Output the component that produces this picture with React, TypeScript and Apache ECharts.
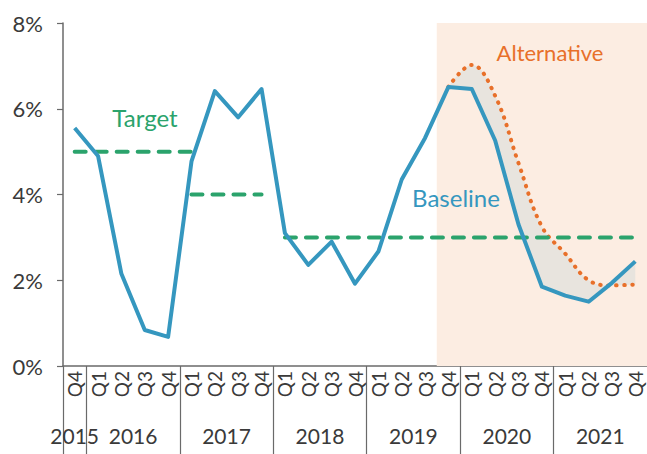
import React, { useEffect, useRef } from "react";
import * as echarts from "echarts";

const categories = [
  "2015 Q4",
  "2016 Q1", "2016 Q2", "2016 Q3", "2016 Q4",
  "2017 Q1", "2017 Q2", "2017 Q3", "2017 Q4",
  "2018 Q1", "2018 Q2", "2018 Q3", "2018 Q4",
  "2019 Q1", "2019 Q2", "2019 Q3", "2019 Q4",
  "2020 Q1", "2020 Q2", "2020 Q3", "2020 Q4",
  "2021 Q1", "2021 Q2", "2021 Q3", "2021 Q4",
];

const baseline = [
  5.55, 4.9, 2.15, 0.84, 0.68, 4.77, 6.41, 5.8, 6.46, 3.1, 2.36, 2.9, 1.92,
  2.67, 4.35, 5.32, 6.51, 6.46, 5.26, 3.3, 1.85, 1.64, 1.5, 1.94, 2.44,
];

const alternative: (number | null)[] = [
  null, null, null, null, null, null, null, null, null, null, null, null, null,
  null, null, null, 6.51, 7.02, 6.3, 4.73, 3.25, 2.62, 2.0, 1.88, 1.9,
];

const targetLevels = [5, 4, 3];
const targetFrom = ["2015 Q4", "2017 Q1", "2018 Q1"];
const targetTo = ["2017 Q1", "2017 Q4", "2021 Q4"];

const years = ["2015", "2016", "2017", "2018", "2019", "2020", "2021"];
const yearFirstQuarter = ["2015 Q4", "2016 Q1", "2017 Q1", "2018 Q1", "2019 Q1", "2020 Q1", "2021 Q1"];

const yTicks = [0, 2, 4, 6, 8];
const shadeFrom = "2019 Q4";

const BLUE = "#3597BF";
const GREEN = "#2BA36C";
const ORANGE = "#E8702A";
const AXIS = "#6a6a6a";
const TEXT = "#3a3a3a";
const FONT = "Lato, 'Open Sans', sans-serif";

export default function App() {
  const ref = useRef<HTMLDivElement>(null);

  useEffect(() => {
    if (!ref.current) return;
    const chart = echarts.init(ref.current, undefined, { renderer: "svg" });

    const n = categories.length;
    const idx = (c: string) => categories.indexOf(c);

    const starts = yearFirstQuarter.map(idx);
    const ends = starts.map((s, i) => (i + 1 < starts.length ? starts[i + 1] : n));
    const yearCentres = starts.map((s, i) => (s + ends[i]) / 2);
    const boundaries = starts.slice();

    const baseStack = baseline.map((v, i) => (alternative[i] == null ? "-" : v));
    const band = baseline.map((v, i) =>
      alternative[i] == null ? "-" : +((alternative[i] as number) - v).toFixed(3)
    );

    const targetSeries = targetLevels.map((lvl, k) => {
      const a = idx(targetFrom[k]);
      const b = idx(targetTo[k]);
      return {
        type: "line",
        data: categories.map((_, i) => (i >= a && i <= b ? lvl : "-")),
        symbol: "none",
        z: 4,
        silent: true,
        lineStyle: { color: GREEN, width: 4, type: [11, 10], cap: "round" },
      };
    });

    chart.setOption({
      animation: false,
      grid: { left: 63, right: 0, top: 23, bottom: 88, outerBoundsMode: "none", containLabel: false },
      xAxis: [
        {
          type: "category",
          data: categories,
          boundaryGap: true,
          axisLine: { show: true, lineStyle: { color: AXIS, width: 1.5 } },
          axisTick: { show: false },
          axisLabel: {
            interval: 0,
            rotate: 90,
            margin: 5,
            fontSize: 19,
            fontFamily: FONT,
            color: TEXT,
            formatter: (v: string) => v.split(" ")[1],
          },
          splitLine: { show: false },
        },
        {
          type: "value",
          position: "bottom",
          min: 0,
          max: n,
          axisLine: { show: false },
          splitLine: { show: false },
          axisTick: {
            show: true,
            inside: false,
            length: 88,
            customValues: boundaries,
            lineStyle: { color: AXIS, width: 1.2 },
          },
          axisLabel: {
            show: true,
            margin: 59,
            fontSize: 21,
            fontFamily: FONT,
            color: TEXT,
            customValues: yearCentres,
            formatter: (v: number) => {
              const k = yearCentres.findIndex((c) => Math.abs(c - v) < 1e-6);
              return k >= 0 ? years[k] : "";
            },
          },
        },
      ],
      yAxis: {
        type: "value",
        min: 0,
        max: 8,
        interval: 2,
        axisLine: { show: true, lineStyle: { color: AXIS, width: 1.5 } },
        axisTick: { show: true, length: 6, lineStyle: { color: AXIS, width: 1.2 } },
        axisLabel: {
          margin: 20,
          fontSize: 22,
          fontFamily: FONT,
          color: TEXT,
          formatter: (v: number) => (yTicks.includes(v) ? `${v}%` : ""),
        },
        splitLine: { show: false },
      },
      series: [
        {
          type: "line",
          xAxisIndex: 1,
          data: [
            [idx(shadeFrom), 0],
            [n, 0],
          ],
          symbol: "none",
          lineStyle: { opacity: 0, width: 0 },
          silent: true,
          z: 0,
          markArea: {
            silent: true,
            itemStyle: { color: "#FCEDE2" },
            data: [[{ xAxis: idx(shadeFrom) }, { xAxis: n }]],
          },
        },
        {
          type: "line",
          data: baseStack,
          stack: "alt",
          stackStrategy: "all",
          symbol: "none",
          smooth: false,
          lineStyle: { opacity: 0, width: 0 },
          silent: true,
          z: 1,
        },
        {
          type: "line",
          data: band,
          stack: "alt",
          stackStrategy: "all",
          symbol: "none",
          smooth: 0.4,
          silent: true,
          z: 2,
          areaStyle: { color: "#E8E4DE", opacity: 1 },
          lineStyle: { color: ORANGE, width: 4, type: [0.5, 7.5], cap: "round" },
        },
        ...targetSeries,
        {
          type: "line",
          data: baseline,
          symbol: "none",
          z: 5,
          silent: true,
          lineStyle: { color: BLUE, width: 4, join: "round" },
        },
      ],
      graphic: [
        {
          type: "text",
          x: 145,
          y: 117,
          z: 100,
          style: {
            text: "Target",
            fill: GREEN,
            fontSize: 24,
            fontFamily: FONT,
            align: "center",
            verticalAlign: "middle",
          },
        },
        {
          type: "text",
          x: 456,
          y: 197,
          z: 100,
          style: {
            text: "Baseline",
            fill: BLUE,
            fontSize: 24,
            fontFamily: FONT,
            align: "center",
            verticalAlign: "middle",
          },
        },
        {
          type: "text",
          x: 550,
          y: 52,
          z: 100,
          style: {
            text: "Alternative",
            fill: ORANGE,
            fontSize: 22,
            fontFamily: FONT,
            align: "center",
            verticalAlign: "middle",
          },
        },
      ],
    });

    return () => chart.dispose();
  }, []);

  return (
    <div
      ref={ref}
      style={{ position: "fixed", left: 0, top: 0, width: 647, height: 454, background: "#ffffff" }}
    />
  );
}
